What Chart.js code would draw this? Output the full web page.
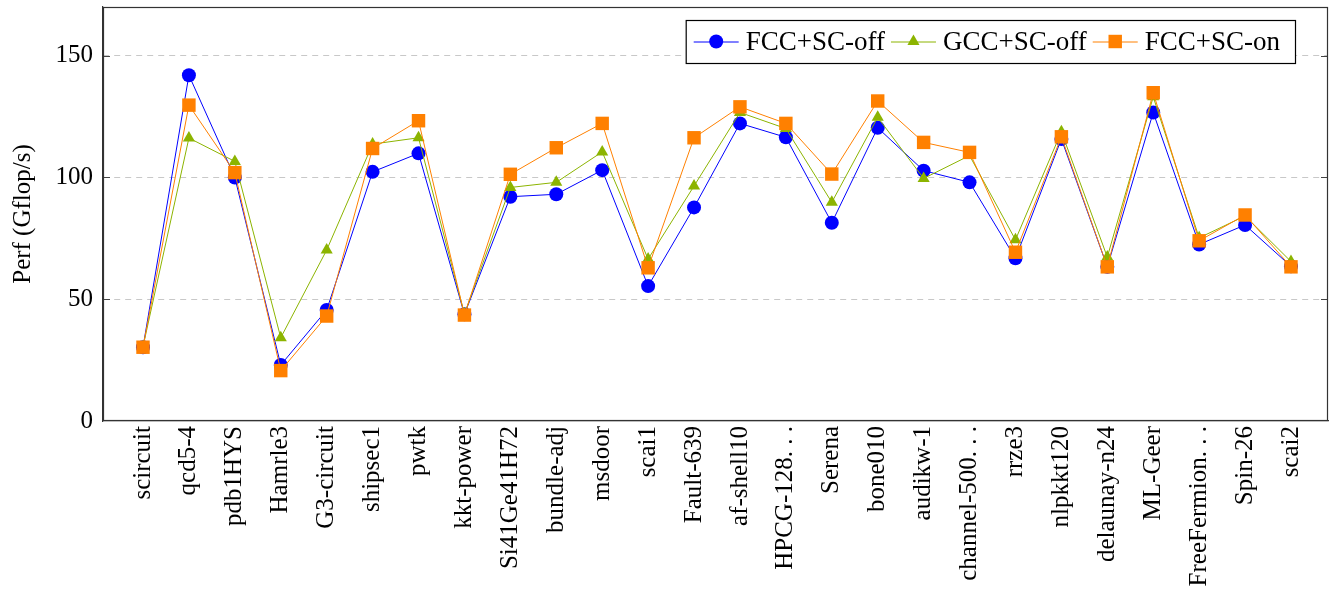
<!DOCTYPE html>
<html>
<head>
<meta charset="utf-8">
<script src="https://cdn.jsdelivr.net/npm/chart.js@4.4.1/dist/chart.umd.min.js"></script>
<style>
  html, body { margin: 0; padding: 0; background: #fff; }
  #wrap { width: 1335px; height: 591px; }
</style>
</head>
<body>
<div id="wrap"><canvas id="c" width="1335" height="591"></canvas></div>
<script>
const categories = ["scircuit","qcd5-4","pdb1HYS","Hamrle3","G3-circuit","shipsec1","pwtk","kkt-power","Si41Ge41H72","bundle-adj","msdoor","scai1","Fault-639","af-shell10","HPCG-128. . .","Serena","bone010","audikw-1","channel-500. . .","rrze3","nlpkkt120","delaunay-n24","ML-Geer","FreeFermion. . .","Spin-26","scai2"];
const fccOff = [30.3, 142.0, 100.0, 23.0, 45.6, 102.3, 109.9, 43.8, 92.1, 93.1, 103.0, 55.4, 87.7, 122.2, 116.5, 81.4, 120.4, 102.8, 98.0, 66.8, 115.8, 63.3, 126.7, 72.5, 80.5, 63.5];
const gccOff = [30.5, 116.2, 106.6, 34.2, 70.2, 113.7, 116.3, 44.0, 95.9, 98.0, 110.5, 66.5, 96.5, 126.7, 120.1, 89.8, 124.7, 99.6, 109.0, 74.4, 118.8, 67.3, 133.1, 75.2, 84.2, 65.5];
const fccOn  = [30.3, 129.7, 102.0, 20.7, 43.1, 111.9, 123.3, 43.5, 101.3, 112.2, 122.2, 62.9, 116.3, 129.0, 122.2, 101.4, 131.4, 114.4, 110.3, 69.3, 116.7, 63.3, 134.8, 74.0, 84.6, 63.3];
const seriesNames = ["FCC+SC-off", "GCC+SC-off", "FCC+SC-on"];
const yTickValues = [0, 50, 100, 150];

const FONT = "'Liberation Serif', 'Times New Roman', serif";
const colors = ["#0000ff", "#8cb400", "#ff8000"];
const pstyles = ["circle", "triangle", "rect"];
const pradius = [7, 7, 9.5];

function toXY(arr) { return arr.map((v, i) => ({ x: i, y: v })); }

const datasets = [fccOff, gccOff, fccOn].map((arr, k) => ({
  label: seriesNames[k],
  data: toXY(arr),
  borderColor: colors[k],
  backgroundColor: colors[k],
  borderWidth: 1,
  pointStyle: pstyles[k],
  pointRadius: pradius[k],
  pointHoverRadius: pradius[k],
  pointBorderWidth: 0,
  pointBackgroundColor: colors[k],
  tension: 0,
  order: 3 - k
}));

function drawMarker(ctx, k, cx, cy) {
  ctx.fillStyle = colors[k];
  ctx.beginPath();
  const r = pradius[k];
  if (pstyles[k] === 'circle') { ctx.arc(cx, cy, r, 0, Math.PI * 2); }
  else if (pstyles[k] === 'rect') { const s = r * Math.SQRT1_2; ctx.rect(cx - s, cy - s, 2 * s, 2 * s); }
  else { const h = r * Math.sin(2 * Math.PI / 3);
    ctx.moveTo(cx, cy - r); ctx.lineTo(cx + h, cy + r / 2); ctx.lineTo(cx - h, cy + r / 2); ctx.closePath(); }
  ctx.fill();
}

const framePlugin = {
  id: 'frame',
  afterDraw(chart) {
    const ctx = chart.ctx;
    const a = chart.chartArea;
    const ys = chart.scales.y;
    ctx.save();
    ctx.strokeStyle = '#444';
    ctx.lineWidth = 1;
    yTickValues.forEach(v => {
      if (v === 0) return;
      const py = Math.round(ys.getPixelForValue(v)) + 0.5;
      ctx.beginPath();
      ctx.moveTo(a.right - 7, py); ctx.lineTo(a.right, py);
      ctx.moveTo(a.left, py); ctx.lineTo(a.left + 7, py);
      ctx.stroke();
    });
    ctx.strokeStyle = '#333';
    ctx.lineWidth = 1.2;
    ctx.strokeRect(a.left + 0.5, a.top + 0.5, a.right - a.left - 1, a.bottom - a.top - 1);

    // legend
    ctx.font = "27px " + FONT;
    const lineLen = 45, gapText = 7, gapEntry = 6, padL = 8, padR = 15;
    const widths = seriesNames.map(n => ctx.measureText(n).width);
    let total = padL;
    widths.forEach((w, i) => { total += lineLen + gapText + w + (i < widths.length - 1 ? gapEntry : 0); });
    total += padR;
    const bx = a.right - 33 - total, by = a.top + 13, bh = 43;
    ctx.fillStyle = '#fff';
    ctx.fillRect(bx, by, total, bh);
    ctx.strokeStyle = '#000';
    ctx.lineWidth = 1.2;
    ctx.strokeRect(bx + 0.5, by + 0.5, total, bh);
    let x = bx + padL;
    const cy = by + bh / 2;
    seriesNames.forEach((n, k) => {
      ctx.strokeStyle = colors[k];
      ctx.lineWidth = 1;
      ctx.beginPath();
      ctx.moveTo(x, cy + 0.5); ctx.lineTo(x + lineLen, cy + 0.5);
      ctx.stroke();
      drawMarker(ctx, k, x + lineLen / 2, cy);
      ctx.fillStyle = '#000';
      ctx.textBaseline = 'middle';
      ctx.textAlign = 'left';
      ctx.fillText(n, x + lineLen + gapText, cy + 1);
      x += lineLen + gapText + widths[k] + gapEntry;
    });
    ctx.restore();
  }
};

new Chart(document.getElementById('c'), {
  type: 'line',
  data: { datasets },
  options: {
    responsive: false,
    animation: false,
    events: [],
    layout: { autoPadding: false, padding: { top: 7, right: 7, left: 0, bottom: 0 } },
    plugins: { legend: { display: false }, tooltip: { enabled: false } },
    scales: {
      x: {
        type: 'linear',
        min: -0.871,
        max: 25.806,
        afterBuildTicks(scale) { scale.ticks = categories.map((c, i) => ({ value: i })); },
        afterFit(scale) { scale.height = 170; scale.paddingLeft = 0; scale.paddingRight = 0; },
        grid: { display: false, drawTicks: false },
        border: { display: true, color: '#333', width: 1.2 },
        ticks: {
          autoSkip: false,
          minRotation: 90,
          maxRotation: 90,
          padding: 5,
          color: '#000',
          font: { family: FONT, size: 25 },
          callback: (v) => categories[Math.round(v)]
        }
      },
      y: {
        min: 0,
        max: 170,
        afterBuildTicks(scale) { scale.ticks = yTickValues.map(v => ({ value: v })); },
        afterFit(scale) { scale.width = 103; scale.paddingTop = 0; scale.paddingBottom = 0; },
        grid: {
          drawTicks: false,
          color: (c) => (c.tick && c.tick.value === 0) ? 'rgba(0,0,0,0)' : '#c8c8c8',
          lineWidth: 1
        },
        border: { display: true, color: '#333', width: 1.2, dash: [6, 5] },
        ticks: {
          padding: 10,
          color: '#000',
          font: { family: FONT, size: 25 }
        },
        title: {
          display: true,
          text: 'Perf (Gflop/s)',
          color: '#000',
          font: { family: FONT, size: 25 },
          padding: { top: 8, bottom: 4 }
        }
      }
    }
  },
  plugins: [framePlugin]
});
</script>
</body>
</html>
